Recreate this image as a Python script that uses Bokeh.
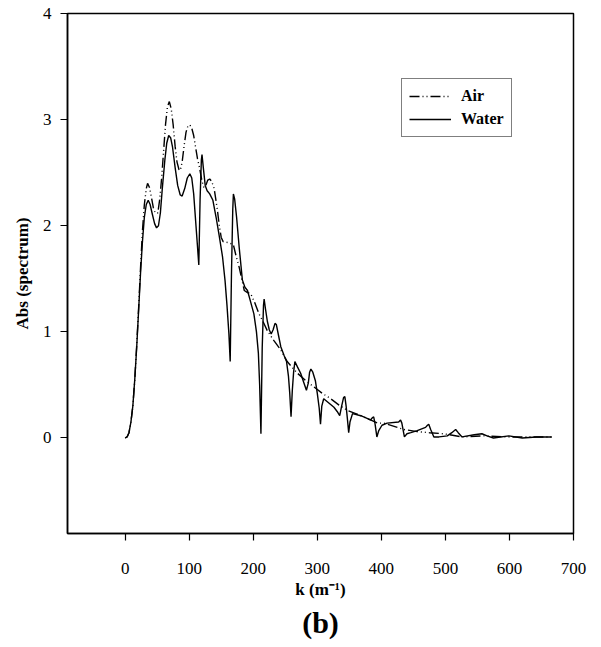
from bokeh.plotting import figure
from bokeh.models import Range1d, FixedTicker, Legend, LegendItem, Title
from bokeh.embed import file_html
from bokeh.resources import INLINE

# Water (solid line)
water_k = [0, 3, 6, 9, 12, 15, 18, 21, 24, 27, 30, 33, 36, 39, 42, 46, 49, 52, 55, 58, 62, 65,
           68, 71, 74, 78, 82, 86, 89, 93, 97, 101, 104, 107, 110, 113, 115, 117, 119, 120,
           122, 125, 128, 132, 137, 142, 147, 152, 156, 159, 162, 164, 166, 168, 169, 171,
           174, 178, 183, 187, 191, 196, 201, 205, 208, 210, 212, 214, 216, 217, 219, 222,
           225, 228, 231, 234, 236, 239, 243, 248, 252, 255, 257, 259, 261, 263, 265, 269,
           274, 279, 283, 286, 288, 290, 293, 297, 300, 303, 305, 307, 310, 318, 326, 331,
           335, 338, 341, 343, 345, 347, 349, 351, 355, 368, 383, 386, 388, 390, 393, 396,
           401, 409, 427, 430, 432, 436, 440, 446, 456, 469, 472, 474, 477, 482, 490, 503,
           510, 516, 520, 526, 545, 557, 565, 575, 599, 620, 642, 666]
water_abs = [0.0, 0.01, 0.05, 0.15, 0.3, 0.55, 0.85, 1.2, 1.55, 1.85, 2.08, 2.2, 2.24, 2.2,
             2.12, 2.02, 1.98, 2.0, 2.12, 2.35, 2.62, 2.78, 2.85, 2.83, 2.74, 2.55, 2.38,
             2.29, 2.28, 2.35, 2.45, 2.49, 2.45, 2.3, 2.05, 1.8, 1.63, 2.25, 2.62, 2.67, 2.55,
             2.38, 2.33, 2.3, 2.24, 2.08, 1.9, 1.71, 1.48, 1.25, 0.98, 0.72, 1.55, 2.15, 2.30,
             2.25, 2.08, 1.8, 1.49, 1.42, 1.39, 1.28, 1.17, 1.0, 0.8, 0.5, 0.04, 0.85, 1.25,
             1.31, 1.22, 1.1, 1.02, 0.98, 1.02, 1.08, 1.07, 0.98, 0.86, 0.78, 0.72, 0.58,
             0.42, 0.2, 0.45, 0.62, 0.72, 0.67, 0.61, 0.52, 0.45, 0.52, 0.62, 0.65, 0.62,
             0.54, 0.42, 0.28, 0.13, 0.3, 0.37, 0.33, 0.29, 0.25, 0.21, 0.3, 0.38, 0.39, 0.3,
             0.18, 0.05, 0.15, 0.23, 0.21, 0.17, 0.19, 0.2, 0.14, 0.01, 0.07, 0.12, 0.14,
             0.15, 0.17, 0.14, 0.01, 0.04, 0.05, 0.07, 0.1, 0.12, 0.13, 0.08, 0.01, 0.01,
             0.02, 0.05, 0.08, 0.05, 0.01, 0.03, 0.04, 0.02, 0.0, 0.02, 0.0, 0.01, 0.01]

# Air (dash-dot-dot line)
air_k = [0, 3, 6, 9, 12, 15, 18, 21, 24, 27, 30, 33, 35, 38, 41, 44, 47, 51, 54, 57, 60, 63,
         66, 69, 72, 75, 78, 81, 84, 86, 89, 92, 95, 98, 101, 104, 107, 110, 113, 116, 120,
         123, 126, 129, 132, 135, 139, 144, 147, 150, 153, 162, 169, 173, 178, 182, 186, 191,
         196, 202, 209, 215, 222, 232, 243, 253, 269, 282, 295, 308, 321, 334, 347, 360, 372,
         383, 394, 404, 420, 435, 456, 475, 497, 526, 560, 600, 640, 666]
air_abs = [0.0, 0.01, 0.05, 0.15, 0.3, 0.55, 0.87, 1.22, 1.6, 1.95, 2.2, 2.35, 2.40, 2.36,
           2.27, 2.17, 2.12, 2.12, 2.25, 2.45, 2.7, 2.95, 3.12, 3.17, 3.1, 2.95, 2.75, 2.6,
           2.53, 2.52, 2.6, 2.75, 2.88, 2.94, 2.95, 2.92, 2.85, 2.74, 2.63, 2.55, 2.42, 2.36,
           2.38, 2.43, 2.44, 2.42, 2.35, 2.15, 2.0, 1.89, 1.85, 1.84, 1.82, 1.72, 1.61, 1.5,
           1.39, 1.37, 1.36, 1.28, 1.17, 1.1, 1.01, 0.92, 0.83, 0.72, 0.61, 0.54, 0.48, 0.42,
           0.37, 0.31, 0.26, 0.23, 0.2, 0.17, 0.14, 0.14, 0.11, 0.08, 0.06, 0.05, 0.04, 0.01,
           0.02, 0.01, 0.01, 0.01]

x_ticks = [0, 100, 200, 300, 400, 500, 600, 700]
y_ticks = [0, 1, 2, 3, 4]

FONT = "Liberation Serif"

p = figure(width=601, height=647, output_backend="svg", toolbar_location=None,
           x_range=Range1d(-90, 700), y_range=Range1d(-0.9, 4),
           min_border_left=67, min_border_right=28, min_border_top=13, min_border_bottom=114)
p.background_fill_color = "white"
p.border_fill_color = "white"
p.outline_line_color = "black"
p.outline_line_width = 1.5
p.xgrid.visible = False
p.ygrid.visible = False

for ax in (p.xaxis[0], p.yaxis[0]):
    ax.axis_line_color = "black"
    ax.axis_line_width = 1.5
    ax.major_tick_in = 0
    ax.major_tick_out = 7
    ax.major_tick_line_color = "black"
    ax.major_tick_line_width = 1.2
    ax.minor_tick_line_color = None
    ax.major_label_text_font = FONT
    ax.major_label_text_font_size = "17px"
    ax.major_label_text_color = "black"
    ax.axis_label_text_font = FONT
    ax.axis_label_text_font_size = "17px"
    ax.axis_label_text_font_style = "bold"
    ax.axis_label_text_color = "black"

p.xaxis.ticker = FixedTicker(ticks=x_ticks)
p.yaxis.ticker = FixedTicker(ticks=y_ticks)
p.xaxis.major_label_standoff = 22
p.yaxis.major_label_standoff = 9
p.xaxis.axis_label = "k (m\u207b\u00b9)"
p.yaxis.axis_label = "Abs (spectrum)"
p.xaxis.axis_label_standoff = 3
p.yaxis.axis_label_standoff = 8

r_air = p.line(air_k, air_abs, line_color="black", line_width=1.4, line_dash="10 3 1 3 1 3")
r_water = p.line(water_k, water_abs, line_color="black", line_width=1.4)

legend = Legend(items=[LegendItem(label="Air", renderers=[r_air]),
                       LegendItem(label="Water", renderers=[r_water])],
                location=(334, 396))
legend.border_line_color = "black"
legend.border_line_width = 1
legend.padding = 7
legend.spacing = 3
legend.margin = 0
legend.glyph_width = 42
legend.glyph_height = 20
legend.label_height = 20
legend.label_standoff = 10
legend.label_text_font = FONT
legend.label_text_font_size = "16px"
legend.label_text_font_style = "bold"
legend.label_text_color = "black"
legend.background_fill_alpha = 1
p.add_layout(legend)

t = Title(text="(b)", align="center", text_font=FONT, text_font_size="30px",
          text_font_style="bold", text_color="black", standoff=4)
p.add_layout(t, "below")

open("out.html", "w").write(file_html(p, INLINE))
